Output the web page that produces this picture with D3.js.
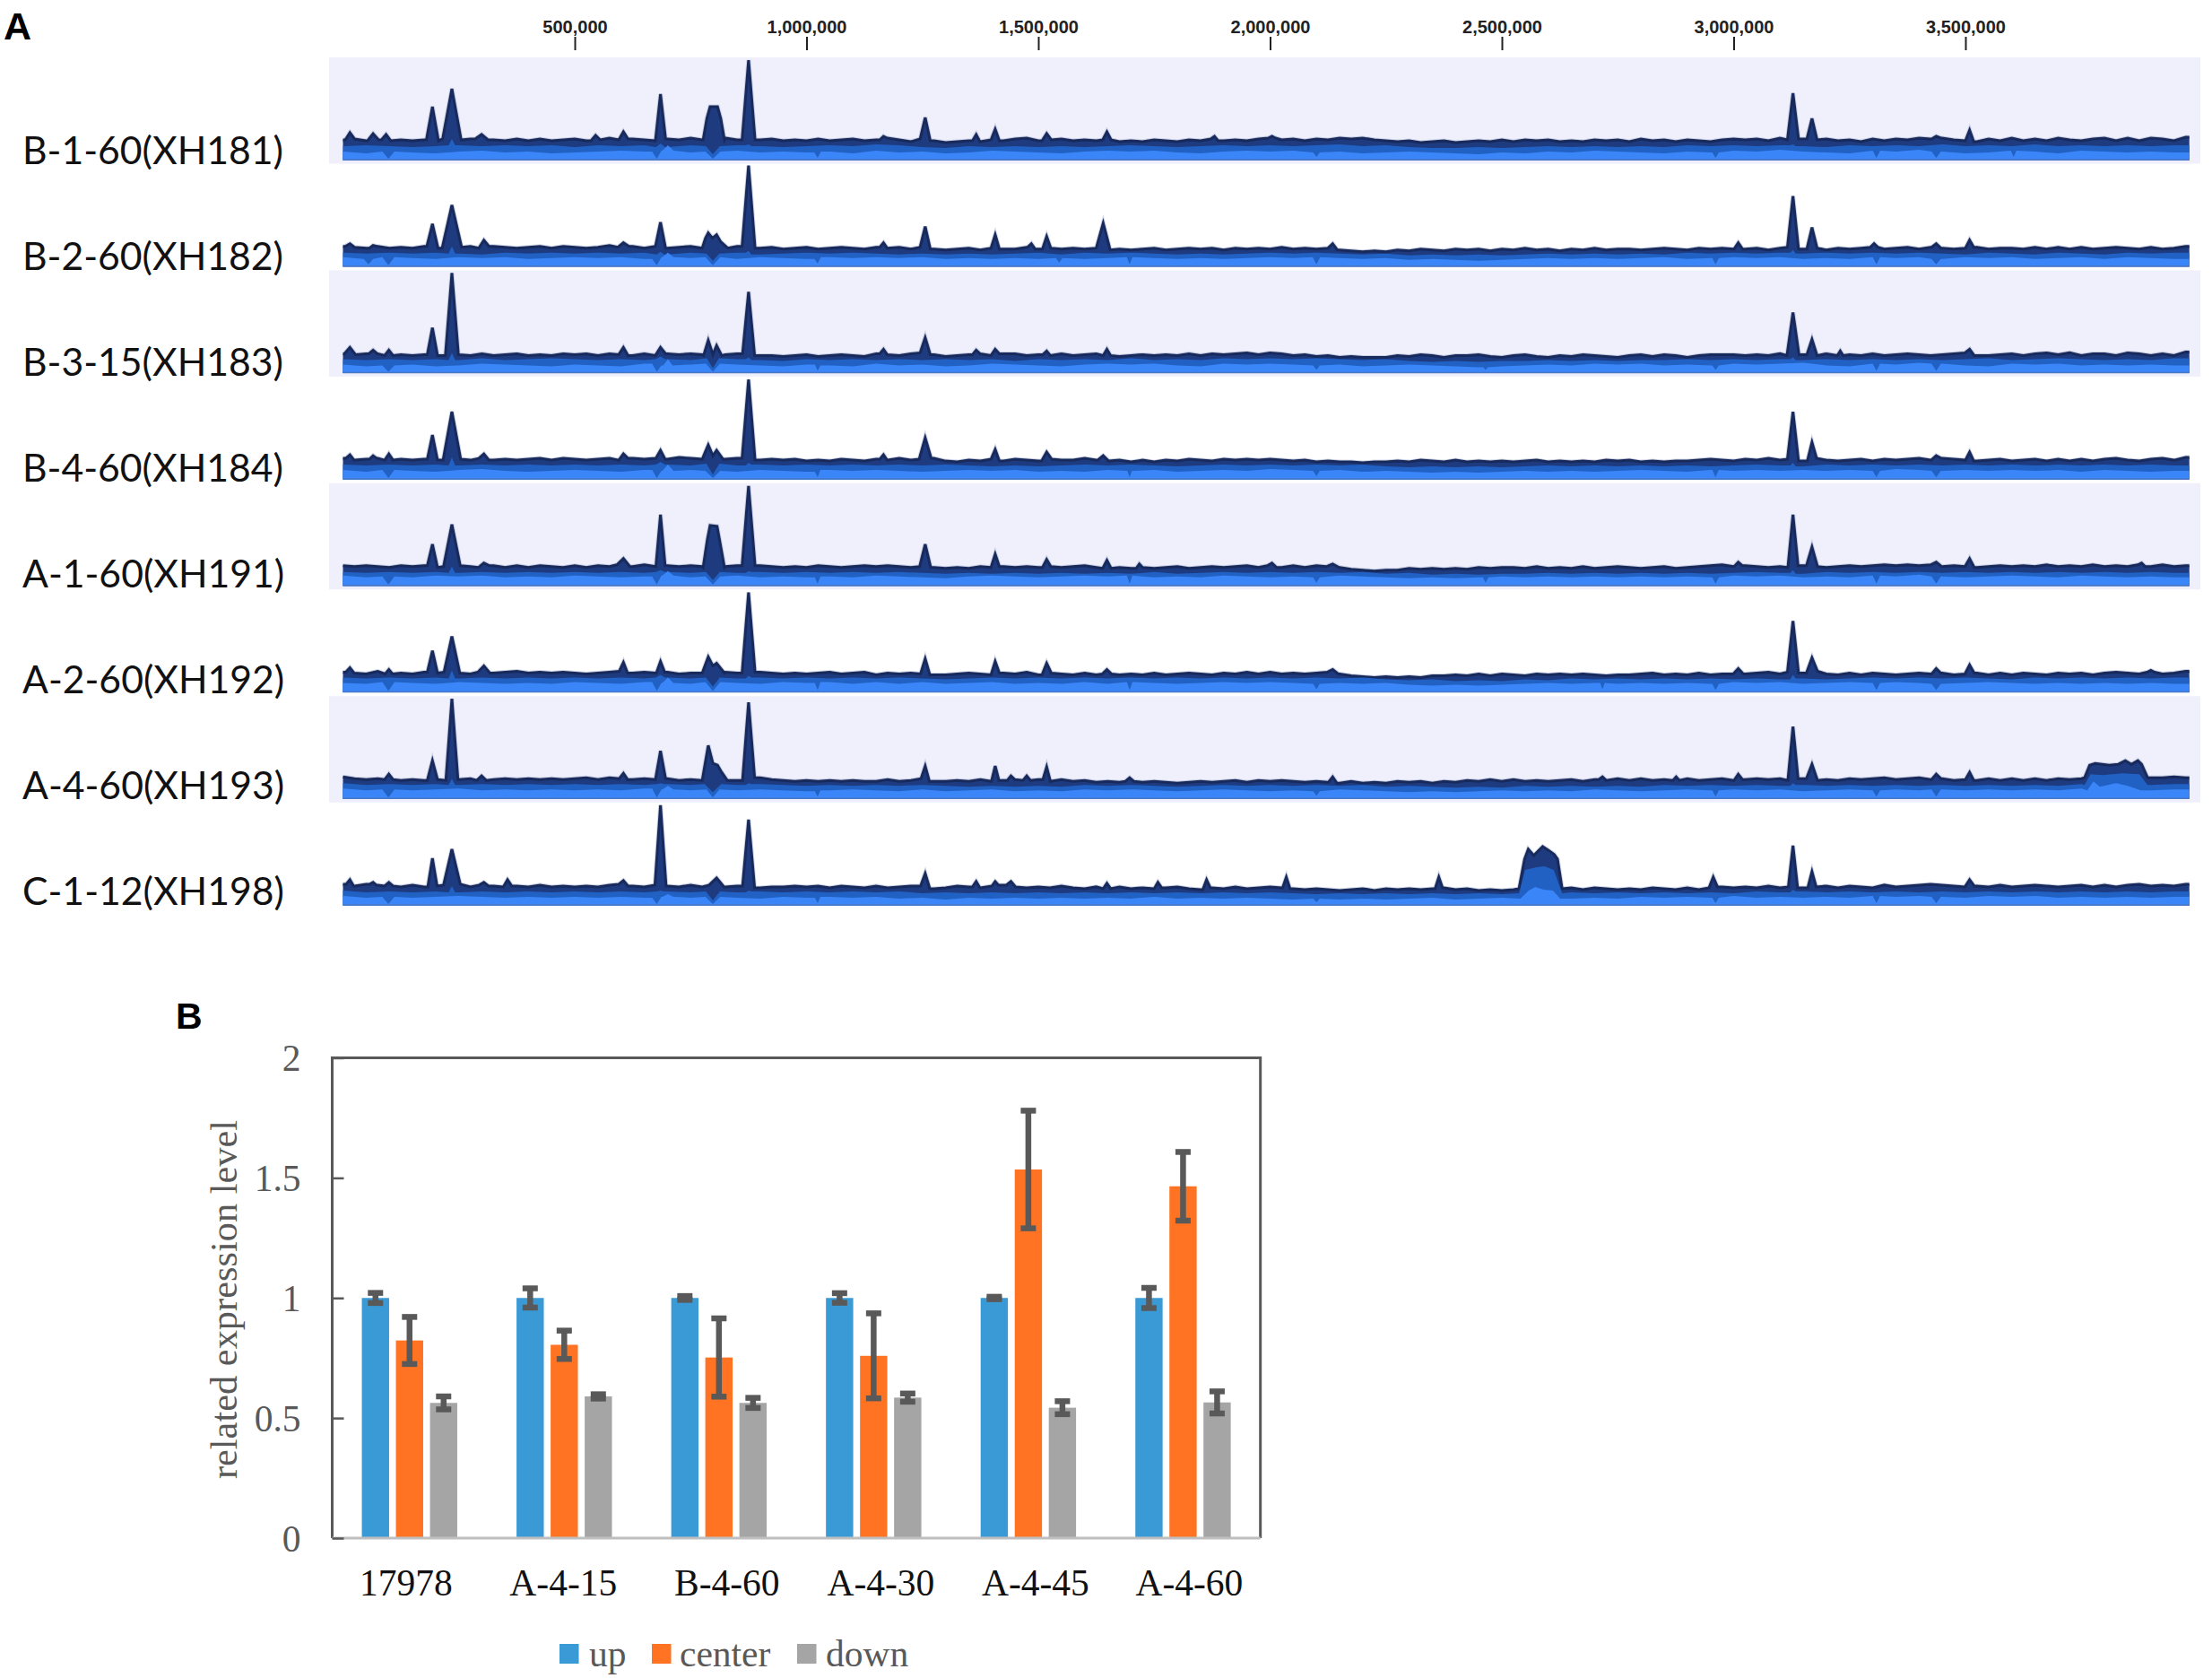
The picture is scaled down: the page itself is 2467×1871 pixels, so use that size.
<!DOCTYPE html>
<html>
<head>
<meta charset="utf-8">
<script src="https://cdnjs.cloudflare.com/ajax/libs/d3/7.8.5/d3.min.js"></script>
<style>
  html, body {margin: 0; padding: 0; background: #fff;}
  svg {display: block;}
</style>
</head>
<body>
<div class="chartWrap"></div>
<script>
//Panel A: coverage tracks, positions in kb, heights in coverage units
const trackLabels = ["B-1-60(XH181)", "B-2-60(XH182)", "B-3-15(XH183)", "B-4-60(XH184)", "A-1-60(XH191)", "A-2-60(XH192)", "A-4-60(XH193)", "C-1-12(XH198)"];
const genomeTicks = [500, 1000, 1500, 2000, 2500, 3000, 3500];
const topStep = 25, layerStep = 50;

//Top envelope, one value every 25 kb
const top1 = [21,22,20,21,20,21,20,21,20,22,21,22,23,21,20,22,20,22,20,21,22,20,21,23,21,22,21,20,22,21,23,21,22,23,21,22,21,22,20,21,
  20,22,20,21,22,20,21,23,21,19,22,20,18,19,20,19,21,20,22,23,20,21,22,20,21,20,21,19,20,19,21,20,19,21,20,22,20,21,20,22,
  23,21,22,20,22,21,23,22,23,21,20,19,20,18,19,20,18,19,20,19,21,19,21,20,21,19,20,19,21,20,21,19,22,20,21,19,21,20,19,21,
  22,21,22,20,23,21,22,21,22,20,21,19,22,20,22,21,23,22,23,21,20,19,22,20,23,20,22,20,23,21,20,22,23,20,23,20,23,22,20,24];
const top2 = [21,20,19,21,19,20,19,21,19,19,20,21,19,21,20,19,20,21,19,21,20,19,20,22,20,21,19,21,19,20,21,19,21,19,21,20,19,20,18,19,
  20,18,19,20,19,18,20,19,20,18,20,18,17,18,19,17,19,18,18,20,18,19,18,19,18,19,17,18,17,18,19,17,18,19,18,19,17,19,18,19,
  18,20,18,19,18,19,17,16,15,16,15,17,16,18,17,16,18,17,18,16,18,17,19,17,18,16,18,17,19,17,18,18,17,18,19,18,17,19,18,19,
  18,18,19,17,19,20,18,19,17,19,18,19,20,18,19,20,18,20,19,18,19,20,18,19,19,18,20,18,20,18,20,18,19,20,19,18,20,18,19,21];
const top3 = [20,19,20,20,18,19,18,19,18,18,19,18,20,18,19,20,18,19,18,20,19,20,18,20,19,18,20,18,20,19,20,19,18,19,20,19,18,18,17,18,
  19,17,18,19,18,17,20,19,18,20,21,19,17,18,19,20,18,20,20,18,19,18,20,18,19,20,18,17,18,19,18,19,18,20,18,20,19,20,21,19,
  21,20,18,19,17,18,16,17,16,16,16,18,17,19,18,16,18,18,19,17,16,18,19,17,16,18,17,19,18,17,16,18,19,17,19,18,16,18,19,19,
  19,18,19,18,20,18,19,18,20,18,19,18,20,18,19,20,19,18,19,20,21,18,18,19,20,18,20,21,19,21,18,20,20,18,21,20,18,20,18,22];
const top4 = [22,20,21,22,20,21,20,21,20,20,21,20,22,20,21,20,21,22,20,22,21,20,21,22,20,22,21,22,21,23,22,21,22,21,22,21,20,21,20,21,
  19,20,19,21,20,19,21,20,22,20,21,22,19,18,20,19,21,19,21,20,19,21,20,20,22,20,19,20,18,20,18,20,19,21,20,19,21,20,21,20,
  21,20,19,20,18,19,18,18,17,18,18,19,18,20,19,18,20,18,19,18,19,18,19,20,18,19,18,19,18,20,19,20,18,19,18,19,19,20,21,20,
  19,21,20,22,20,21,19,22,20,19,20,21,19,21,20,21,22,20,22,21,20,19,20,21,19,20,21,19,21,19,21,19,21,22,20,19,21,22,20,23];
const top5 = [21,20,21,20,19,21,20,21,19,20,21,20,19,21,19,21,19,21,20,19,21,19,21,20,22,20,22,20,21,20,21,20,21,20,21,20,21,20,19,20,
  19,21,20,19,20,21,20,21,20,19,20,19,18,19,18,20,19,20,19,20,19,20,19,20,21,19,18,19,18,19,18,19,20,18,19,20,19,20,21,19,
  21,19,21,19,21,20,19,17,16,15,16,16,18,17,18,17,18,17,19,18,19,19,18,20,18,19,18,20,18,19,20,19,18,19,20,18,19,20,21,22,
  20,21,20,19,20,19,21,20,19,20,21,20,21,22,21,22,21,22,20,21,20,19,20,21,20,21,20,22,20,21,20,22,20,21,20,22,20,22,20,21];
const top6 = [21,20,19,22,19,20,19,21,20,21,20,19,21,20,21,22,20,21,20,21,20,19,20,21,22,20,21,20,21,19,20,22,20,21,20,22,21,20,19,20,
  19,20,21,19,20,21,18,20,19,20,19,18,18,19,20,19,18,20,19,21,18,20,19,18,20,18,19,18,19,18,20,18,19,20,19,18,20,19,21,19,
  21,19,20,19,20,21,19,17,16,15,16,15,16,15,17,17,18,17,19,17,19,18,17,19,18,19,18,19,18,17,18,18,19,20,18,19,18,20,18,19,
  19,19,20,21,19,21,20,22,19,18,20,18,20,19,18,19,20,19,20,18,19,20,18,20,18,20,19,18,20,19,20,18,20,21,20,19,21,19,20,22];
const top7 = [23,21,20,21,20,19,20,19,20,19,20,21,19,20,21,20,21,20,21,20,21,22,20,22,21,20,21,20,21,19,20,21,19,21,19,21,22,20,19,18,
  19,18,19,18,19,18,18,20,18,19,21,18,18,19,18,20,18,19,20,19,20,18,20,18,19,17,18,17,18,17,18,17,16,17,18,17,18,19,17,19,
  18,19,18,17,18,17,16,18,16,17,16,18,17,18,16,18,17,19,18,20,18,20,18,19,18,19,20,18,20,19,21,19,21,19,20,19,21,19,20,21,
  19,20,21,20,21,19,21,19,20,19,21,20,21,22,20,21,22,20,21,19,20,19,21,19,21,19,21,19,21,20,21,19,21,20,22,22,22,22,23,22];
const top8 = [22,20,22,21,20,19,21,19,20,21,22,19,21,20,19,20,19,21,19,20,19,20,19,21,22,20,19,21,20,19,21,19,21,19,20,19,18,19,19,20,
  19,20,18,20,19,18,20,18,19,20,20,17,18,20,19,18,20,21,19,18,19,18,20,18,17,19,17,19,17,18,17,18,19,17,16,18,17,19,17,18,
  19,18,17,16,17,16,15,16,17,15,17,16,17,16,17,18,16,17,15,16,15,16,15,16,18,16,18,16,18,17,16,17,16,18,17,16,18,16,18,19,
  18,19,18,20,18,19,18,19,20,18,20,19,18,21,19,20,21,22,21,20,19,20,19,21,19,20,21,20,19,20,21,19,21,19,21,22,20,21,20,22];

//Mid layer boundary, one value every 50 kb
const mid1 = [14,15,14,13,14,15,14,15,14,15,13,15,14,15,13,15,14,15,14,13,14,15,14,16,15,13,12,14,13,14,13,14,13,14,15,14,13,14,15,14,
  15,14,15,16,14,15,13,12,12,13,12,13,14,13,14,13,14,13,15,14,15,14,15,14,13,15,14,15,14,16,14,15,14,16,14,15,14,15,14,15];
const mid2 = [14,13,14,13,14,13,12,14,13,14,13,14,13,14,12,14,13,14,12,13,14,13,14,13,12,13,12,13,12,13,14,12,14,13,14,13,12,13,12,13,
  14,13,14,13,12,13,11,12,11,12,11,12,13,12,13,12,13,12,14,13,14,13,14,13,14,13,14,13,14,13,12,14,13,12,14,13,12,14,13,14];
const mid3 = [14,13,14,13,14,13,15,13,14,15,14,13,14,13,14,13,15,14,13,12,14,13,14,13,14,13,14,13,14,12,14,13,14,13,15,13,14,13,15,14,
  15,14,15,14,13,14,12,11,12,11,12,12,13,12,13,12,13,13,14,13,14,13,14,13,14,13,14,13,14,13,14,15,13,14,15,14,13,14,13,15];
const mid4 = [15,14,15,14,15,14,15,14,15,14,15,14,15,14,15,14,16,14,15,14,15,14,15,14,15,14,15,14,13,14,13,14,15,14,15,14,13,14,15,14,
  15,14,15,14,15,13,12,13,12,13,12,13,14,13,14,13,14,13,14,13,14,15,14,13,15,14,15,14,15,14,15,14,15,14,15,14,15,14,15,14];
const mid5 = [14,13,14,13,14,13,14,13,14,13,14,13,14,13,14,13,14,13,14,13,14,13,14,13,14,13,12,13,12,13,12,13,12,13,12,14,12,13,14,13,
  14,13,14,13,14,12,13,11,12,11,12,12,13,12,13,12,13,12,13,12,13,14,13,12,14,13,14,13,14,13,14,13,14,13,14,13,14,13,14,13];
const mid6 = [15,14,15,14,15,14,15,14,15,14,15,14,15,14,15,14,15,14,15,14,15,14,15,14,15,14,13,14,15,14,15,14,15,14,15,14,15,14,15,14,
  15,14,15,14,15,13,12,13,11,12,11,13,12,14,13,14,13,14,13,14,13,14,13,14,13,14,15,14,15,14,15,14,13,15,14,15,14,15,14,15];
const mid7 = [16,14,15,14,15,14,15,14,15,14,15,14,15,14,15,14,15,14,15,14,13,14,13,14,13,14,13,12,13,12,13,12,14,13,14,13,12,13,14,13,
  14,13,14,13,14,12,13,12,11,12,11,13,12,13,12,13,12,14,13,14,13,14,13,14,13,14,13,14,13,14,13,14,13,14,13,15,14,15,14,15];
const mid8 = [15,13,14,13,14,13,14,13,14,13,14,13,14,13,14,13,14,13,14,13,14,13,14,13,14,12,13,12,13,12,13,12,13,12,13,12,13,12,13,12,
  13,12,11,12,11,12,11,12,11,12,11,12,11,13,12,13,12,13,12,13,12,14,13,14,13,14,13,14,13,14,13,14,13,14,13,14,13,14,13,14];

//Low layer boundary, one value every 50 kb
const low1 = [8,6,8,7,6,8,9,7,8,6,7,8,9,8,9,7,8,9,7,8,7,8,6,9,7,8,6,7,9,8,7,6,8,9,8,9,7,6,8,9,
  8,9,7,8,6,7,8,7,6,5,7,6,8,7,9,8,7,6,8,7,9,8,10,8,7,6,9,8,10,8,6,7,9,8,6,9,8,7,8,7];
const low2 = [9,7,9,8,7,9,8,9,7,8,9,8,9,7,9,8,9,7,9,8,7,9,8,9,8,9,7,8,7,8,7,8,7,8,9,8,7,8,7,8,
  9,8,9,8,7,8,6,7,6,5,6,7,8,7,8,7,8,9,7,8,9,8,9,7,8,7,9,8,9,7,9,8,9,7,8,9,7,9,8,7];
const low3 = [8,6,7,8,6,7,9,8,7,6,8,7,6,9,7,8,9,8,7,6,8,7,6,9,7,8,6,7,9,8,7,6,8,9,8,9,7,6,9,8,
  9,8,7,8,6,7,8,7,6,5,6,7,8,7,9,8,9,7,8,7,9,8,9,10,7,6,9,8,10,9,7,6,9,8,9,7,8,7,8,7];
const low4 = [9,7,9,8,7,9,10,8,7,8,9,8,7,9,8,9,8,7,9,8,7,9,8,9,8,7,8,9,8,9,7,8,7,9,8,9,7,8,9,8,
  10,9,8,9,7,8,7,6,7,6,7,8,7,8,7,8,9,8,7,9,8,9,8,9,8,9,8,10,9,8,9,8,9,8,9,7,9,8,7,8];
const low5 = [10,8,9,8,10,9,10,8,9,8,10,9,8,9,10,8,9,10,8,9,8,9,8,10,9,8,7,9,10,9,8,9,10,9,10,8,9,8,10,9,
  8,9,8,10,9,8,7,8,7,8,9,8,9,8,9,8,9,8,9,8,10,9,10,8,9,8,10,9,11,9,8,9,10,9,8,10,9,8,9,8];
const low6 = [9,8,10,9,8,10,9,8,9,8,10,9,8,10,9,8,10,9,8,10,9,10,8,10,8,10,8,9,10,8,9,8,10,8,10,9,8,9,10,9,
  10,9,8,9,8,9,7,6,7,6,7,8,9,8,9,8,9,8,9,8,10,9,10,8,9,10,9,10,9,8,9,10,9,8,9,8,9,8,9,8];
const low7 = [10,8,9,8,9,10,8,9,8,9,8,9,8,10,9,8,9,8,9,8,7,8,9,8,7,9,7,8,9,7,8,7,9,8,9,8,7,8,9,8,
  7,8,7,9,8,7,6,7,6,7,8,7,8,7,9,8,7,8,9,8,9,8,9,7,8,9,8,9,8,9,8,9,8,9,8,10,8,9,8,9];
const low8 = [9,7,8,7,8,9,8,7,8,7,8,7,8,7,8,7,8,7,6,8,7,8,7,8,6,7,5,7,6,7,6,7,6,7,6,8,6,7,6,7,
  6,5,6,5,6,5,6,7,5,6,7,6,7,6,7,6,8,7,8,7,9,7,8,7,8,7,9,8,9,8,7,9,8,9,7,8,7,8,7,8];

//Peaks on the top envelope: kb, height, half width at base
const peaks1 = [[15,29,10],[65,28,12],[93,27,10],[193,58,13],[235,78,20],[299,27,14],[545,26,10],[605,30,10],[685,72,11],[1166,25,8],[1256,46,11],[1366,27,8],[1407,33,9],[1518,28,10],[1648,30,9],[1880,25,8],[2004,25,8],[3128,73,12],[3169,45,11],[3437,25,10],[3509,32,9]];
const peaks2 = [[15,24,10],[65,22,8],[193,46,12],[235,67,21],[304,28,11],[605,25,12],[685,48,11],[1166,25,8],[1256,43,11],[1407,34,9],[1485,24,8],[1518,32,9],[1640,47,15],[2135,24,10],[3010,25,9],[3128,77,12],[3169,42,11],[3303,24,8],[3437,24,10],[3509,28,9]];
const peaks3 = [[15,27,12],[65,24,9],[99,24,9],[193,49,11],[235,110,14],[605,27,10],[685,27,11],[1166,25,8],[1256,38,11],[1366,24,8],[1407,25,9],[1518,23,8],[1648,25,8],[3128,66,13],[3169,36,11],[3230,23,6],[3509,25,10]];
const peaks4 = [[15,26,9],[65,25,8],[99,27,9],[193,48,11],[235,74,19],[304,27,11],[605,27,10],[685,31,10],[1166,26,8],[1256,45,13],[1407,32,9],[1518,29,11],[1640,25,12],[3128,74,12],[3169,40,10],[3437,25,11],[3509,29,9]];
const peaks5 = [[193,45,11],[235,67,18],[304,24,12],[605,29,14],[685,78,10],[1256,45,12],[1407,34,9],[1518,28,9],[1648,27,9],[1718,23,7],[2004,24,10],[2135,23,14],[3010,25,9],[3128,78,11],[3169,42,12],[3437,25,12],[3509,29,10],[3880,24,8]];
const peaks6 = [[15,26,9],[99,24,8],[193,45,11],[235,61,17],[304,28,13],[605,32,9],[685,33,9],[1256,36,10],[1407,33,9],[1518,31,10],[1648,24,10],[2135,24,12],[3010,25,11],[3128,78,12],[3169,37,12],[3437,25,10],[3509,29,10],[3900,23,8]];
const peaks7 = [[99,26,9],[193,41,11],[235,110,13],[299,24,10],[605,27,9],[685,52,11],[1256,35,9],[1407,35,8],[1441,24,8],[1475,24,8],[1518,34,8],[1697,22,9],[2135,23,9],[2717,23,8],[2876,23,7],[3010,26,9],[3128,79,11],[3169,37,12],[3437,26,10],[3509,28,9]];
const peaks8 = [[15,27,8],[65,24,7],[99,24,9],[193,51,10],[235,61,18],[304,24,10],[355,27,9],[605,26,10],[685,110,12],[806,29,16],[1256,34,10],[1366,25,8],[1407,25,7],[1441,25,10],[1648,23,8],[1758,24,8],[1863,27,8],[2035,30,8],[2364,30,8],[2956,30,9],[3128,65,10],[3169,36,9],[3509,27,10]];
//Tallest spike of each track near 875 kb: height, half width
const spike875 = [[110,14],[111,14],[89,13],[110,14],[110,14],[110,14],[106,13],[94,13]];

//Wide features drawn as explicit kb, height outlines
const blocks1 = [[[777,21],[785,45],[792,58],[808,58],[815,45],[823,21]]];
const blocks2 = [[[775,19],[782,30],[788,36],[797,30],[806,34],[815,26],[830,19]]];
const blocks3 = [[[778,18],[788,35],[798,19],[806,29],[817,18]]];
const blocks4 = [[[775,21],[788,37],[798,25],[806,31],[820,21]]];
const blocks5 = [[[777,19],[786,50],[792,66],[807,65],[813,48],[823,19]]];
const blocks6 = [[[775,20],[788,38],[798,28],[806,31],[823,20]]];
const blocks7 = [[[775,19],[788,58],[798,38],[808,36],[817,28],[829,19]],
  [[3757,22],[3768,36],[3780,38],[3810,36],[3830,37],[3845,41],[3858,37],[3872,41],[3880,37],[3893,22]]];
const blocks8 = [[[2537,17],[2549,50],[2557,61],[2569,54],[2588,64],[2600,60],[2613,55],[2620,50],[2630,17]]];

//Features on the mid boundary (kb, height, half width)
const midFeatures = [
  [[235,22,7],[685,17,10],[798,5,15],[875,16,6],[3128,16,6]],
  [[235,21,7],[685,15,8],[798,5,14],[875,16,6],[3128,17,6]],
  [[235,21,7],[685,17,10],[798,4,13],[875,16,6],[3128,16,6]],
  [[235,23,7],[685,18,10],[798,4,14],[875,17,6],[3128,17,6]],
  [[235,20,7],[685,16,10],[798,5,15],[875,15,6],[3128,16,6]],
  [[235,23,7],[685,18,10],[798,5,15],[875,17,6],[3128,18,6]],
  [[235,21,7],[685,16,8],[798,6,18],[875,16,6],[3128,16,6]],
  [[235,20,7],[685,15,8],[798,4,15],[875,15,6],[3128,16,6]]
];
//Dips and bumps on the low boundary
const lowFeatures = [
  [[98,0,13],[677,0,10],[701,15,12],[798,0,16],[1024,1,7],[2100,2,7],[2961,1,7],[3308,1,8],[3437,1,10],[3604,2,6]],
  [[55,1,10],[98,0,13],[677,0,10],[701,14,12],[798,0,16],[1024,2,7],[1545,3,7],[1697,1,6],[2100,1,8],[2961,1,7],[3308,1,8],[3437,1,10]],
  [[98,0,13],[677,0,10],[701,14,10],[798,0,15],[1024,1,6],[2100,2,7],[2465,2,5],[2961,2,7],[3308,1,8],[3437,1,10]],
  [[98,0,13],[677,0,10],[701,15,12],[798,0,16],[1024,1,6],[1697,1,5],[2100,2,7],[2961,1,7],[3308,1,8],[3437,1,10]],
  [[98,0,13],[677,0,10],[701,15,12],[798,0,16],[1024,1,6],[1697,1,6],[2100,2,7],[2465,2,6],[2961,1,7],[3308,1,8],[3437,1,10]],
  [[98,0,13],[677,0,10],[701,15,12],[798,0,16],[1024,1,6],[1697,1,6],[2100,2,7],[2717,2,5],[2961,1,7],[3308,1,8],[3437,1,10]],
  [[98,0,13],[677,0,10],[701,13,12],[798,0,14],[1024,1,6],[2100,2,7],[2961,1,7],[3308,1,8],[3437,1,10]],
  [[98,0,13],[677,0,10],[701,11,12],[798,0,16],[1024,1,6],[2100,2,7],[2961,1,7],[3308,1,8],[3437,1,10]]
];
//Wide features on the mid and low boundaries (track index, then outline)
const midBlocks = [[6, [[3757,14],[3770,26],[3795,25],[3840,27],[3875,26],[3893,14]]], [7, [[2537,12],[2550,38],[2575,41],[2592,42],[2612,38],[2630,12]]]];
const lowBlocks = [[6, [[3763,8],[3776,18],[3790,12],[3825,16],[3850,13],[3878,8]]], [7, [[2540,6],[2558,15],[2572,19],[2590,16],[2610,15],[2626,6]]]];

//Panel B: expression levels
const categories = ["17978", "A-4-15", "B-4-60", "A-4-30", "A-4-45", "A-4-60"];
const seriesNames = ["up", "center", "down"];
const upValues = [1.0, 1.0, 1.0, 1.0, 1.0, 1.0];
const centerValues = [0.823, 0.805, 0.752, 0.759, 1.535, 1.465];
const downValues = [0.563, 0.59, 0.563, 0.585, 0.543, 0.565];
const upErrors = [0.021, 0.04, 0.008, 0.02, 0.005, 0.042];
const centerErrors = [0.098, 0.059, 0.163, 0.177, 0.245, 0.143];
const downErrors = [0.027, 0.009, 0.021, 0.017, 0.027, 0.046];
const yTicks = [0, 0.5, 1, 1.5, 2];
const seriesColors = ["#3a9ad6", "#ff7322", "#a5a5a5"];

const topSeries = [top1, top2, top3, top4, top5, top6, top7, top8];
const midSeries = [mid1, mid2, mid3, mid4, mid5, mid6, mid7, mid8];
const lowSeries = [low1, low2, low3, low4, low5, low6, low7, low8];
const peakLists = [peaks1, peaks2, peaks3, peaks4, peaks5, peaks6, peaks7, peaks8];
const blockLists = [blocks1, blocks2, blocks3, blocks4, blocks5, blocks6, blocks7, blocks8];
const valueLists = [upValues, centerValues, downValues];
const errorLists = [upErrors, centerErrors, downErrors];

const width = 2467, height = 1871;
const svg = d3.select(".chartWrap").append("svg").attr("width", width).attr("height", height);
const sans = "'Liberation Sans', Arial, sans-serif", serif = "'Liberation Serif', 'Times New Roman', serif";

drawTracks();
drawBars();

//Joins the regular samples with the features that sit on top of them
function buildOutline(values, step, features) {
  const endKb = 3983;
  let outlines = features.map(function(f) {
    return f.outline ? f.outline : [[f[0] - f[2], null], [f[0], f[1]], [f[0] + f[2], null]];
  });
  let base = function(kb) {return values[Math.min(values.length - 1, Math.round(kb / step))];};
  let points = values.map(function(v, i) {return [i * step, v];}).concat([[endKb, values[values.length - 1]]]);
  points = points.filter(function(p) {
    return !outlines.some(function(o) {return p[0] >= o[0][0] && p[0] <= o[o.length - 1][0];});
  });
  outlines.forEach(function(o) {
    o.forEach(function(p) {points.push([Math.max(0, p[0]), p[1] === null ? base(p[0]) : p[1]]);});
  });
  return points.sort(function(a, b) {return a[0] - b[0];});
}

function drawTracks() {
  const rowStep = 118.7, firstBase = 177, bandTop = 64, labelStep = 118;
  const x = d3.scaleLinear().domain([0, 3990]).range([382.5, 382.5 + 0.517 * 3990]);

  //Pale bands behind every other track
  svg.selectAll(".band").data(trackLabels.filter(function(d, i) {return i % 2 === 0;})).enter()
    .append("rect").attr("class", "band")
    .attr("x", 367).attr("width", 2454 - 367)
    .attr("y", function(d, i) {return bandTop + i * 2 * rowStep;})
    .attr("height", 118.5)
    .attr("fill", "#f0f0fc");

  //Genome ruler
  const ruler = svg.append("g").attr("transform", "translate(0,56)")
    .call(d3.axisTop(x).tickValues(genomeTicks).tickSize(15).tickPadding(4).tickFormat(function(d) {return d3.format(",")(d * 1000);}));
  ruler.select(".domain").remove();
  ruler.selectAll("line").attr("stroke", "#222").attr("stroke-width", 2);
  ruler.selectAll("text").attr("font-family", sans).attr("font-weight", "bold").attr("font-size", 20).attr("fill", "#222");

  trackLabels.forEach(function(label, t) {
    const base = firstBase + t * rowStep;
    const y = d3.scaleLinear().domain([0, 110]).range([base, base - 110]);
    let area = d3.area().x(function(d) {return x(d[0]);}).y0(base + 1.5).y1(function(d) {return y(d[1]);});
    let line = d3.line().x(function(d) {return x(d[0]);}).y(function(d) {return y(d[1]);});

    let topFeatures = peakLists[t].concat([[875, spike875[t][0], spike875[t][1]]])
      .concat(blockLists[t].map(function(b) {return {outline: b};}));
    let topPoints = buildOutline(topSeries[t], topStep, topFeatures);

    let midExtra = midBlocks.filter(function(b) {return b[0] === t;}).map(function(b) {return {outline: b[1]};});
    let midPoints = buildOutline(midSeries[t], layerStep, midFeatures[t].concat(midExtra));
    let lowExtra = lowBlocks.filter(function(b) {return b[0] === t;}).map(function(b) {return {outline: b[1]};});
    let lowPoints = buildOutline(lowSeries[t], layerStep, lowFeatures[t].concat(lowExtra));

    const g = svg.append("g").attr("class", "track");
    g.append("path").attr("d", line(topPoints)).attr("fill", "none").attr("stroke", "#9aa3c0").attr("stroke-width", 5).attr("opacity", 0.45);
    g.append("path").attr("d", area(topPoints)).attr("fill", "#1e3b80");
    g.append("path").attr("d", line(topPoints)).attr("fill", "none").attr("stroke", "#182a5c").attr("stroke-width", 3);
    g.append("path").attr("d", area(midPoints)).attr("fill", "#2261c4");
    g.append("path").attr("d", area(lowPoints)).attr("fill", "#3a86f8");
    g.append("line").attr("x1", x(0)).attr("x2", x(3983)).attr("y1", base + 1).attr("y2", base + 1).attr("stroke", "#4a76c6").attr("stroke-width", 1.5);

    svg.append("text").text(label).attr("x", 25).attr("y", firstBase + 6 + t * labelStep)
      .attr("font-family", "Lato, sans-serif").attr("font-size", 42.7).attr("fill", "#111");
  });

  svg.append("text").text("A").attr("x", 4).attr("y", 44).attr("font-family", sans).attr("font-weight", "bold").attr("font-size", 43).attr("fill", "#000");
}

function drawBars() {
  const left = 370.5, right = 1405.7, top = 1179.5, bottom = 1715;
  const x = d3.scaleBand().domain(categories).range([left, right]);
  const barSpan = 106.4;
  const xSeries = d3.scaleBand().domain(seriesNames).range([0, barSpan]).paddingInner(0.2);
  const y = d3.scaleLinear().domain([0, 2]).range([bottom, top]);
  //The picture's category labels do not sit quite under their groups
  const labelShift = [-4, -1, 9, 8, 8, 7];

  svg.append("text").text("B").attr("x", 196).attr("y", 1147).attr("font-family", sans).attr("font-weight", "bold").attr("font-size", 41).attr("fill", "#000");

  //Bars
  seriesNames.forEach(function(name, s) {
    svg.selectAll(".bar" + s).data(categories).enter()
      .append("rect").attr("class", "bar" + s)
      .attr("x", function(d) {return x(d) + (x.bandwidth() - barSpan) / 2 + xSeries(name);})
      .attr("width", xSeries.bandwidth())
      .attr("y", function(d, i) {return y(valueLists[s][i]);})
      .attr("height", function(d, i) {return bottom - y(valueLists[s][i]);})
      .attr("fill", seriesColors[s]);
  });

  //Frame
  svg.append("path").attr("d", "M" + left + "," + bottom + "V" + top + "H" + right + "V" + bottom).attr("fill", "none").attr("stroke", "#595959").attr("stroke-width", 3);
  svg.append("line").attr("x1", left).attr("x2", right).attr("y1", bottom).attr("y2", bottom).attr("stroke", "#bfbfbf").attr("stroke-width", 3);

  //Error bars
  seriesNames.forEach(function(name, s) {
    categories.forEach(function(cat, i) {
      let cx = x(cat) + (x.bandwidth() - barSpan) / 2 + xSeries(name) + xSeries.bandwidth() / 2;
      let hi = y(valueLists[s][i] + errorLists[s][i]), lo = y(valueLists[s][i] - errorLists[s][i]);
      let e = svg.append("g").attr("class", "err").attr("stroke", "#595959");
      e.append("line").attr("x1", cx).attr("x2", cx).attr("y1", hi).attr("y2", lo).attr("stroke-width", 6.5);
      e.append("line").attr("x1", cx - 8.5).attr("x2", cx + 8.5).attr("y1", hi).attr("y2", hi).attr("stroke-width", 6.5);
      e.append("line").attr("x1", cx - 8.5).attr("x2", cx + 8.5).attr("y1", lo).attr("y2", lo).attr("stroke-width", 6.5);
    });
  });

  //Y axis, ticks point into the plot
  const yAxis = svg.append("g").attr("transform", "translate(" + left + ",0)")
    .call(d3.axisRight(y).tickValues(yTicks).tickSize(13).tickFormat(function(d) {return d;}));
  yAxis.select(".domain").remove();
  yAxis.selectAll("line").attr("stroke", "#595959").attr("stroke-width", 2.5);
  yAxis.selectAll("text").attr("x", -35).attr("dy", "0.34em").attr("text-anchor", "end").attr("font-family", serif).attr("font-size", 41.5).attr("fill", "#595959");

  svg.append("text").text("related expression level")
    .attr("transform", "translate(264,1449) rotate(-90)").attr("text-anchor", "middle")
    .attr("font-family", serif).attr("font-size", 42.4).attr("fill", "#595959");

  //Category labels
  const xAxis = svg.append("g").attr("transform", "translate(0," + bottom + ")")
    .call(d3.axisBottom(x).tickSize(0).tickPadding(35));
  xAxis.select(".domain").remove();
  xAxis.selectAll("text").attr("dx", function(d, i) {return labelShift[i];}).attr("font-family", serif).attr("font-size", 41.5).attr("fill", "#111");

  //Legend
  const legendSquares = [624, 727, 889], legendTexts = [657, 758, 921];
  seriesNames.forEach(function(name, s) {
    svg.append("rect").attr("x", legendSquares[s]).attr("y", 1833).attr("width", 21.5).attr("height", 22).attr("fill", seriesColors[s]);
    svg.append("text").text(name).attr("x", legendTexts[s]).attr("y", 1858)
      .attr("font-family", serif).attr("font-size", 41.5).attr("fill", "#595959");
  });
}
</script>
</body>
</html>
